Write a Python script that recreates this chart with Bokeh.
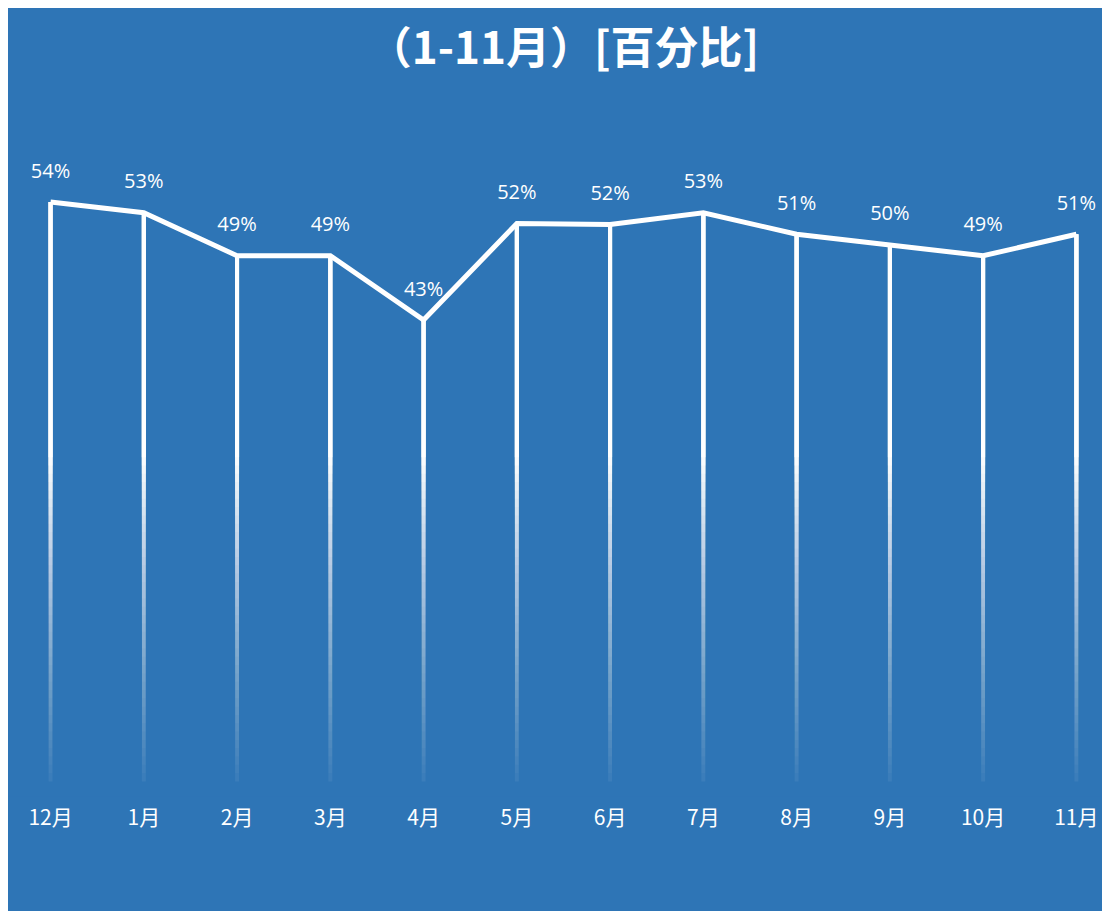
import numpy as np
from bokeh.plotting import figure
from bokeh.models import Range1d, FixedTicker, Label, ColumnDataSource
from bokeh.embed import file_html
from bokeh.resources import INLINE
from bokeh.core.properties import value

# ---- data ----
months = ["12月", "1月", "2月", "3月", "4月", "5月", "6月", "7月", "8月", "9月", "10月", "11月"]
pct = [54.0, 53.0, 49.0, 49.0, 43.0, 52.0, 51.9, 53.0, 51.0, 50.0, 49.0, 51.0]
pct_labels = ["54%", "53%", "49%", "49%", "43%", "52%", "52%", "53%", "51%", "50%", "49%", "51%"]
title_text = "（1-11月）[百分比]"

BLUE = "#2E75B6"
W, H = 1094, 903

xs = list(range(len(months)))

p = figure(width=W, height=H, output_backend="svg", toolbar_location=None,
           x_range=Range1d(-0.451, 11.28), y_range=Range1d(-1.40, 72.04),
           y_axis_location=None,
           min_border_left=0, min_border_right=0, min_border_top=0, min_border_bottom=115)
p.margin = (8, 0, 0, 8)
p.styles = {"background-color": BLUE}
p.background_fill_color = BLUE
p.border_fill_color = BLUE
p.outline_line_color = None
p.grid.visible = False

xa = p.xaxis[0]
xa.ticker = FixedTicker(ticks=xs)
xa.major_label_overrides = {i: m for i, m in enumerate(months)}
xa.axis_line_color = None
xa.major_tick_line_color = None
xa.minor_tick_line_color = None
xa.major_label_text_color = "white"
xa.major_label_text_font = "Noto Sans CJK SC"
xa.major_label_text_font_size = "21px"
xa.major_label_standoff = -2

# gradient drop lines: stacked translucent layers, each running from a level up to the value
M = 40
FADE_TOP = 31.0
x0, y0, x1, y1, al = [], [], [], [], []
prev_T = 0.0
for k in range(M):
    T = 0.04 + 0.96 * (k + 1) / M
    a = 1.0 - (1.0 - T) / (1.0 - prev_T) if prev_T < 1 else 0.0
    prev_T = T
    level = FADE_TOP * k / M
    for i, v in zip(xs, pct):
        x0.append(i); x1.append(i)
        y0.append(level); y1.append(v)
        al.append(a)
seg_src = ColumnDataSource(dict(x0=x0, y0=y0, x1=x1, y1=y1, a=al))
p.segment("x0", "y0", "x1", "y1", source=seg_src, line_color="white",
          line_alpha="a", line_width=4, line_cap="butt")

p.line(xs, pct, line_color="white", line_width=5, line_join="miter")

p.text(xs, pct, text=pct_labels, text_align="center", text_baseline="middle",
       y_offset=-32, text_color="white", text_font=value("Open Sans"),
       text_font_size="20px")

p.add_layout(Label(x=5.5, y=68.6, text=title_text, text_align="center",
                   text_baseline="middle", text_color="white",
                   text_font="Noto Sans CJK SC", text_font_style="bold",
                   text_font_size="44px"))

open("out.html", "w").write(file_html(p, INLINE))
